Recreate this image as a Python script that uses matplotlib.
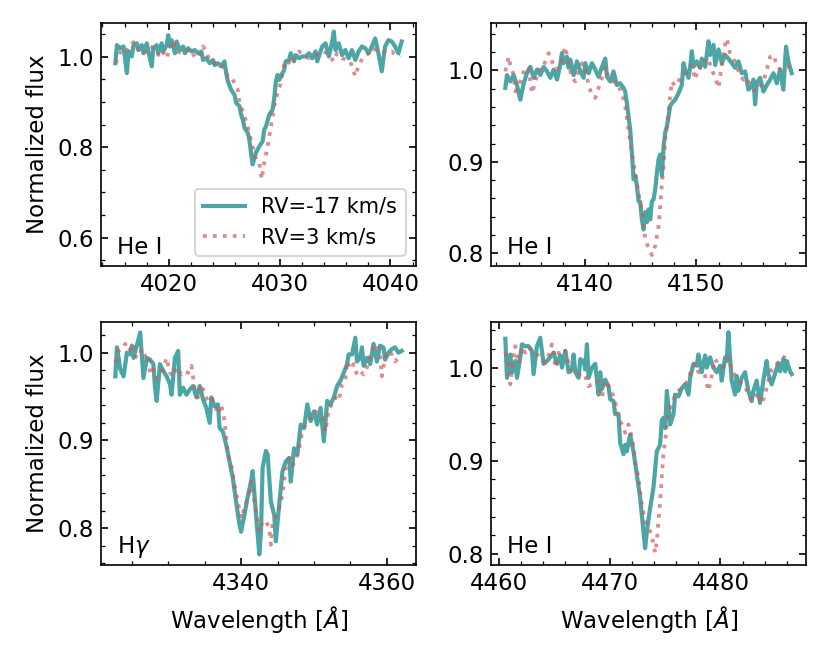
import matplotlib
matplotlib.use('Agg')
import matplotlib.pyplot as plt
from matplotlib.ticker import MultipleLocator, AutoMinorLocator

# Data (wavelength in A, normalized flux)

# He I 4026
wl_a1 = [4015.16, 4015.31, 4015.61, 4015.90, 4016.20, 4016.35, 4016.65, 4016.80, 4017.10, 4017.25,
         4017.55, 4017.70, 4018.00, 4018.15, 4018.45, 4018.59, 4018.89, 4019.04, 4019.34, 4019.49,
         4019.79, 4019.94, 4020.09, 4020.24, 4020.54, 4020.69, 4020.99, 4021.29, 4021.43, 4021.73,
         4022.03, 4022.33, 4022.63, 4022.93, 4023.08, 4023.38, 4023.68, 4023.98, 4024.13, 4024.42,
         4024.72, 4025.02, 4025.17, 4025.32, 4025.62, 4025.92, 4026.07, 4026.37, 4026.52, 4026.67,
         4026.82, 4027.12, 4027.26, 4027.41, 4027.56, 4027.86, 4028.16, 4028.46, 4028.61, 4028.76,
         4029.06, 4029.36, 4029.51, 4029.66, 4029.81, 4029.96, 4030.25, 4030.40, 4030.55, 4030.85,
         4031.00, 4031.30, 4031.45, 4031.75, 4032.05, 4032.35, 4032.65, 4032.94, 4033.24, 4033.39,
         4033.69, 4033.84, 4034.14, 4034.44, 4034.74, 4034.89, 4035.04, 4035.34, 4035.64, 4035.93,
         4036.23, 4036.53, 4036.83, 4037.13, 4037.43, 4037.73, 4038.03, 4038.33, 4038.62, 4038.92,
         4039.22, 4039.52, 4039.82, 4040.12, 4040.42, 4040.72, 4041.02]
fl_a1 = [0.986, 1.026, 1.019, 1.023, 0.964, 1.012, 1.001, 1.026, 1.030, 1.015,
         1.026, 1.008, 1.030, 1.012, 0.979, 1.019, 1.026, 1.008, 1.030, 1.012,
         1.026, 1.048, 1.023, 1.037, 1.008, 1.034, 1.015, 1.023, 1.008, 1.019,
         1.012, 1.015, 1.008, 1.012, 0.993, 0.997, 0.986, 0.993, 0.982, 0.986,
         0.979, 0.990, 0.964, 0.946, 0.927, 0.916, 0.898, 0.891, 0.872, 0.861,
         0.843, 0.832, 0.817, 0.788, 0.762, 0.788, 0.802, 0.813, 0.839, 0.846,
         0.872, 0.883, 0.909, 0.946, 0.960, 0.949, 0.964, 0.971, 0.990, 0.993,
         1.008, 0.990, 1.004, 0.997, 1.001, 1.001, 1.008, 0.997, 1.012, 0.990,
         1.012, 1.023, 1.030, 1.001, 1.034, 1.056, 1.015, 1.030, 1.004, 1.015,
         0.997, 1.015, 0.993, 1.012, 1.023, 1.019, 1.008, 1.023, 1.041, 1.008,
         0.968, 1.023, 1.037, 1.034, 1.023, 1.008, 1.034]
wl_b1 = [4015.16, 4015.46, 4015.75, 4016.20, 4016.65, 4016.95, 4017.25, 4017.55, 4018.00, 4018.30,
         4018.74, 4019.04, 4019.34, 4019.79, 4020.09, 4020.39, 4020.69, 4021.14, 4021.43, 4021.73,
         4022.03, 4022.48, 4022.78, 4023.08, 4023.38, 4023.68, 4024.13, 4024.57, 4025.02, 4025.32,
         4025.62, 4025.92, 4026.22, 4026.37, 4026.67, 4026.97, 4027.26, 4027.56, 4027.86, 4028.16,
         4028.37, 4028.61, 4028.91, 4029.21, 4029.51, 4029.81, 4030.10, 4030.40, 4030.70, 4031.00,
         4031.30, 4031.75, 4032.20, 4032.65, 4033.09, 4033.54, 4033.99, 4034.44, 4034.89, 4035.19,
         4035.64, 4036.08, 4036.38, 4036.83, 4037.13, 4037.58, 4038.03, 4038.33, 4038.77, 4039.22,
         4039.67, 4040.12, 4040.57, 4040.87]
fl_b1 = [0.986, 1.001, 1.019, 1.015, 1.030, 1.034, 1.012, 1.008, 1.012, 1.023,
         1.019, 1.004, 1.015, 0.997, 1.019, 1.037, 1.012, 1.008, 1.012, 1.015,
         1.001, 1.008, 1.001, 1.023, 1.012, 0.990, 0.986, 0.986, 0.975, 0.957,
         0.957, 0.942, 0.927, 0.902, 0.879, 0.857, 0.832, 0.802, 0.773, 0.766,
         0.729, 0.766, 0.802, 0.846, 0.891, 0.920, 0.942, 0.982, 0.993, 0.982,
         0.997, 1.012, 1.001, 0.997, 1.001, 1.008, 1.012, 1.004, 0.990, 1.008,
         0.997, 0.993, 0.990, 0.957, 0.982, 1.001, 1.008, 1.019, 1.015, 1.015,
         1.008, 1.012, 1.001, 1.004]

# He I 4144
wl_a2 = [4132.81, 4132.96, 4133.26, 4133.56, 4133.86, 4134.16, 4134.46, 4134.76, 4135.06, 4135.36,
         4135.66, 4135.96, 4136.26, 4136.56, 4136.86, 4137.16, 4137.46, 4137.75, 4137.90, 4138.05,
         4138.35, 4138.50, 4138.65, 4138.95, 4139.25, 4139.55, 4139.85, 4140.00, 4140.30, 4140.60,
         4140.90, 4141.20, 4141.50, 4141.80, 4141.95, 4142.25, 4142.54, 4142.84, 4143.14, 4143.44,
         4143.59, 4143.74, 4143.89, 4144.04, 4144.19, 4144.34, 4144.49, 4144.64, 4144.79, 4144.94,
         4145.09, 4145.24, 4145.39, 4145.54, 4145.69, 4145.84, 4145.99, 4146.14, 4146.29, 4146.44,
         4146.59, 4146.74, 4146.89, 4147.04, 4147.19, 4147.34, 4147.49, 4147.63, 4147.78, 4148.08,
         4148.38, 4148.68, 4148.83, 4148.98, 4149.28, 4149.43, 4149.58, 4149.73, 4150.03, 4150.33,
         4150.48, 4150.78, 4151.08, 4151.23, 4151.53, 4151.68, 4151.98, 4152.28, 4152.57, 4152.87,
         4153.17, 4153.47, 4153.77, 4154.07, 4154.37, 4154.67, 4154.97, 4155.12, 4155.27, 4155.42,
         4155.72, 4156.02, 4156.32, 4156.62, 4156.92, 4157.22, 4157.51, 4157.81, 4158.05, 4158.26,
         4158.56]
fl_a2 = [0.981, 0.995, 0.988, 0.995, 0.984, 0.968, 0.986, 0.997, 1.004, 0.992,
         1.001, 0.995, 1.004, 0.999, 0.992, 1.001, 0.990, 1.006, 1.019, 1.008,
         1.015, 1.003, 1.012, 0.995, 1.010, 0.999, 0.992, 1.008, 0.997, 1.008,
         1.001, 0.993, 1.004, 1.013, 0.993, 0.988, 0.999, 0.984, 0.986, 0.981,
         0.977, 0.964, 0.950, 0.935, 0.910, 0.881, 0.885, 0.874, 0.857, 0.856,
         0.837, 0.826, 0.845, 0.834, 0.848, 0.837, 0.857, 0.859, 0.870, 0.888,
         0.903, 0.908, 0.885, 0.917, 0.932, 0.939, 0.950, 0.961, 0.964, 0.968,
         0.975, 0.984, 1.008, 1.001, 0.992, 1.004, 1.021, 1.004, 1.010, 1.003,
         1.013, 1.004, 1.032, 1.017, 1.028, 1.006, 1.023, 1.008, 1.017, 1.013,
         1.008, 1.003, 1.010, 0.997, 0.999, 0.979, 0.983, 0.990, 0.963, 0.986,
         0.992, 0.977, 0.984, 0.990, 0.997, 0.986, 1.001, 0.979, 1.026, 1.010,
         0.997]
wl_b2 = [4132.81, 4133.11, 4133.26, 4133.56, 4133.71, 4134.01, 4134.31, 4134.61, 4134.91, 4135.21,
         4135.51, 4135.81, 4136.11, 4136.41, 4136.71, 4137.01, 4137.31, 4137.60, 4137.90, 4138.20,
         4138.50, 4138.80, 4139.10, 4139.40, 4139.70, 4140.00, 4140.30, 4140.60, 4140.90, 4141.20,
         4141.50, 4141.80, 4142.10, 4142.40, 4142.69, 4142.99, 4143.29, 4143.59, 4143.89, 4144.04,
         4144.19, 4144.34, 4144.49, 4144.79, 4145.09, 4145.39, 4145.69, 4145.99, 4146.29, 4146.59,
         4146.74, 4146.89, 4147.04, 4147.19, 4147.34, 4147.49, 4147.63, 4147.78, 4148.08, 4148.38,
         4148.68, 4148.98, 4149.28, 4149.58, 4149.88, 4150.18, 4150.48, 4150.78, 4151.08, 4151.38,
         4151.68, 4151.98, 4152.28, 4152.57, 4152.72, 4153.02, 4153.32, 4153.62, 4153.92, 4154.22,
         4154.52, 4154.82, 4155.12, 4155.42, 4155.72, 4156.02, 4156.32, 4156.62, 4156.92, 4157.22,
         4157.51, 4157.81, 4158.11, 4158.41]
fl_b2 = [0.999, 1.015, 1.006, 0.995, 0.977, 0.983, 0.993, 1.004, 1.001, 0.975,
         0.988, 1.001, 1.001, 1.010, 1.019, 1.010, 1.001, 1.003, 1.013, 1.026,
         1.008, 0.992, 0.988, 1.001, 1.008, 1.004, 0.983, 0.974, 0.970, 0.981,
         0.992, 1.004, 0.992, 0.990, 0.986, 0.983, 0.975, 0.961, 0.935, 0.921,
         0.910, 0.899, 0.888, 0.866, 0.845, 0.816, 0.805, 0.798, 0.808, 0.830,
         0.852, 0.877, 0.895, 0.925, 0.939, 0.957, 0.972, 0.988, 0.983, 0.988,
         0.995, 0.997, 1.003, 1.006, 0.990, 1.004, 1.003, 1.013, 1.012, 1.001,
         0.992, 0.981, 1.006, 1.028, 1.035, 1.019, 1.013, 1.004, 0.995, 0.990,
         0.992, 0.984, 0.979, 0.977, 0.983, 0.988, 1.001, 1.015, 1.017, 1.006,
         1.001, 1.003, 1.004, 1.004]

# H gamma
wl_a3 = [4322.73, 4322.95, 4323.41, 4323.86, 4324.32, 4324.77, 4325.00, 4325.23, 4325.68, 4326.14,
         4326.59, 4327.05, 4327.50, 4327.95, 4328.18, 4328.41, 4328.86, 4329.32, 4329.77, 4330.23,
         4330.45, 4330.91, 4331.36, 4331.59, 4332.05, 4332.50, 4332.95, 4333.41, 4333.86, 4334.32,
         4334.77, 4335.23, 4335.68, 4335.91, 4336.36, 4336.82, 4337.05, 4337.50, 4337.95, 4338.41,
         4338.86, 4339.32, 4339.77, 4340.00, 4340.45, 4340.91, 4341.36, 4341.59, 4342.05, 4342.50,
         4342.73, 4342.95, 4343.41, 4343.64, 4344.09, 4344.55, 4344.77, 4345.23, 4345.68, 4346.14,
         4346.59, 4346.82, 4347.27, 4347.73, 4348.18, 4348.64, 4349.09, 4349.55, 4350.00, 4350.45,
         4350.91, 4351.36, 4351.82, 4352.27, 4352.73, 4353.18, 4353.64, 4354.09, 4354.55, 4354.77,
         4355.23, 4355.68, 4355.91, 4356.36, 4356.59, 4356.82, 4357.27, 4357.73, 4358.18, 4358.64,
         4359.09, 4359.55, 4359.77, 4360.23, 4360.68, 4361.14, 4361.59, 4362.05]
fl_a3 = [0.973, 1.006, 0.981, 0.973, 1.000, 0.998, 1.008, 0.994, 1.008, 1.023,
         0.971, 0.994, 0.992, 0.987, 0.960, 0.945, 0.987, 0.979, 0.973, 0.964,
         0.952, 0.994, 1.002, 0.952, 0.960, 0.952, 0.958, 0.962, 0.949, 0.962,
         0.947, 0.937, 0.920, 0.949, 0.939, 0.941, 0.914, 0.910, 0.895, 0.876,
         0.857, 0.830, 0.804, 0.796, 0.815, 0.836, 0.853, 0.865, 0.815, 0.770,
         0.796, 0.869, 0.888, 0.884, 0.830, 0.815, 0.785, 0.827, 0.865, 0.876,
         0.880, 0.853, 0.891, 0.884, 0.918, 0.914, 0.941, 0.922, 0.933, 0.918,
         0.937, 0.899, 0.945, 0.941, 0.949, 0.962, 0.968, 0.977, 0.987, 0.998,
         0.998, 1.017, 0.990, 0.994, 1.006, 0.985, 0.994, 0.987, 1.010, 0.990,
         1.008, 1.006, 0.992, 1.000, 1.004, 1.006, 1.000, 1.002]
wl_b3 = [4322.73, 4323.18, 4323.64, 4324.09, 4324.55, 4325.00, 4325.23, 4325.45, 4325.91, 4326.36,
         4326.82, 4327.27, 4327.50, 4327.95, 4328.41, 4328.86, 4329.32, 4329.77, 4330.23, 4330.68,
         4331.14, 4331.82, 4332.27, 4332.73, 4333.18, 4333.64, 4334.09, 4334.55, 4335.00, 4335.45,
         4335.91, 4336.36, 4336.82, 4337.27, 4337.73, 4338.18, 4338.64, 4339.09, 4339.55, 4340.00,
         4340.45, 4340.91, 4341.36, 4341.59, 4342.05, 4342.50, 4342.95, 4343.41, 4343.86, 4344.09,
         4344.32, 4344.77, 4345.23, 4345.45, 4345.68, 4346.14, 4346.59, 4347.05, 4347.50, 4347.95,
         4348.41, 4348.86, 4349.32, 4349.77, 4350.23, 4350.68, 4351.14, 4351.59, 4352.05, 4352.50,
         4352.95, 4353.41, 4353.86, 4354.32, 4354.55, 4355.00, 4355.45, 4355.91, 4356.36, 4356.82,
         4357.27, 4357.73, 4358.18, 4358.64, 4359.09, 4359.32, 4359.77, 4360.23, 4360.68, 4361.14,
         4361.59]
fl_b3 = [0.989, 1.002, 1.004, 1.010, 1.002, 1.006, 1.010, 0.996, 0.994, 1.004,
         0.996, 0.998, 0.975, 0.981, 0.971, 0.973, 0.983, 0.994, 0.977, 0.973,
         0.983, 0.975, 0.979, 0.977, 0.985, 0.958, 0.949, 0.964, 0.952, 0.945,
         0.949, 0.941, 0.930, 0.941, 0.922, 0.884, 0.872, 0.850, 0.830, 0.811,
         0.823, 0.834, 0.853, 0.842, 0.819, 0.796, 0.808, 0.808, 0.800, 0.781,
         0.804, 0.815, 0.823, 0.830, 0.838, 0.869, 0.880, 0.872, 0.876, 0.891,
         0.910, 0.918, 0.922, 0.930, 0.933, 0.930, 0.926, 0.910, 0.937, 0.941,
         0.949, 0.945, 0.964, 0.968, 0.990, 0.981, 0.987, 0.975, 0.979, 0.975,
         0.983, 0.998, 1.006, 1.010, 0.998, 0.973, 0.994, 1.002, 0.998, 0.990,
         0.994]

# He I 4471
wl_a4 = [4460.60, 4460.75, 4461.05, 4461.20, 4461.50, 4461.65, 4461.95, 4462.10, 4462.40, 4462.70,
         4463.00, 4463.15, 4463.45, 4463.75, 4464.05, 4464.35, 4464.65, 4464.95, 4465.26, 4465.56,
         4465.71, 4466.01, 4466.31, 4466.61, 4466.76, 4466.91, 4467.21, 4467.36, 4467.66, 4467.81,
         4467.96, 4468.11, 4468.41, 4468.71, 4468.86, 4469.01, 4469.16, 4469.31, 4469.61, 4469.91,
         4470.06, 4470.36, 4470.51, 4470.81, 4470.96, 4471.26, 4471.41, 4471.56, 4471.86, 4472.16,
         4472.46, 4472.76, 4473.06, 4473.21, 4473.36, 4473.66, 4473.96, 4474.26, 4474.56, 4474.71,
         4474.86, 4475.02, 4475.17, 4475.32, 4475.47, 4475.77, 4475.92, 4476.22, 4476.52, 4476.82,
         4477.12, 4477.27, 4477.57, 4477.87, 4478.02, 4478.32, 4478.62, 4478.77, 4479.07, 4479.37,
         4479.67, 4479.97, 4480.12, 4480.42, 4480.57, 4480.72, 4480.87, 4481.02, 4481.32, 4481.47,
         4481.62, 4481.92, 4482.22, 4482.52, 4482.82, 4482.97, 4483.27, 4483.57, 4483.87, 4484.17,
         4484.32, 4484.62, 4484.92, 4485.23, 4485.38, 4485.68, 4485.83, 4485.98, 4486.28, 4486.43]
fl_a4 = [1.031, 0.989, 1.014, 0.995, 1.007, 0.989, 1.011, 1.025, 1.023, 1.023,
         1.018, 0.993, 1.023, 1.032, 1.004, 1.007, 1.011, 1.016, 1.004, 1.013,
         1.000, 1.018, 0.995, 0.998, 1.014, 0.995, 0.989, 1.009, 1.007, 0.998,
         1.025, 0.989, 1.000, 1.004, 0.987, 0.971, 0.995, 0.977, 0.987, 0.980,
         0.966, 0.964, 0.950, 0.950, 0.919, 0.907, 0.917, 0.910, 0.928, 0.910,
         0.885, 0.860, 0.824, 0.806, 0.824, 0.849, 0.871, 0.910, 0.917, 0.943,
         0.946, 0.935, 0.975, 0.957, 0.939, 0.950, 0.971, 0.969, 0.978, 0.982,
         0.971, 0.989, 1.004, 1.002, 1.014, 0.995, 1.013, 1.000, 1.011, 1.000,
         0.995, 1.002, 0.986, 1.011, 1.007, 1.038, 1.011, 0.986, 0.971, 0.991,
         0.975, 0.989, 0.995, 0.975, 0.964, 0.975, 0.986, 0.962, 0.986, 1.007,
         0.993, 0.982, 0.993, 1.005, 0.996, 1.009, 0.996, 1.007, 0.996, 0.993]
wl_b4 = [4460.60, 4460.90, 4461.05, 4461.20, 4461.35, 4461.50, 4461.80, 4462.10, 4462.40, 4462.70,
         4463.00, 4463.30, 4463.60, 4463.90, 4464.20, 4464.50, 4464.80, 4464.95, 4465.11, 4465.41,
         4465.71, 4466.01, 4466.31, 4466.61, 4466.91, 4467.21, 4467.51, 4467.81, 4468.11, 4468.41,
         4468.71, 4469.01, 4469.31, 4469.61, 4469.76, 4470.06, 4470.36, 4470.51, 4470.66, 4470.81,
         4471.11, 4471.41, 4471.71, 4472.01, 4472.16, 4472.31, 4472.61, 4472.76, 4472.91, 4473.21,
         4473.51, 4473.81, 4473.96, 4474.11, 4474.26, 4474.41, 4474.56, 4474.71, 4474.86, 4475.02,
         4475.17, 4475.32, 4475.47, 4475.62, 4475.92, 4476.22, 4476.52, 4476.82, 4477.12, 4477.42,
         4477.72, 4478.02, 4478.32, 4478.62, 4478.92, 4479.22, 4479.52, 4479.82, 4480.12, 4480.42,
         4480.72, 4481.02, 4481.32, 4481.62, 4481.92, 4482.22, 4482.52, 4482.82, 4483.12, 4483.42,
         4483.72, 4484.02, 4484.32, 4484.62, 4484.92, 4485.23, 4485.53, 4485.83, 4486.13]
fl_b4 = [1.016, 1.004, 0.982, 0.998, 1.013, 1.023, 1.004, 1.022, 1.016, 1.022,
         1.018, 1.014, 1.013, 1.009, 1.005, 1.013, 1.025, 1.018, 1.000, 1.016,
         1.014, 1.018, 1.005, 0.995, 0.993, 0.993, 0.989, 0.991, 0.980, 0.982,
         0.986, 0.984, 0.968, 0.986, 0.982, 0.978, 0.969, 0.964, 0.953, 0.946,
         0.939, 0.930, 0.939, 0.925, 0.914, 0.899, 0.882, 0.867, 0.853, 0.835,
         0.828, 0.820, 0.810, 0.801, 0.813, 0.835, 0.856, 0.882, 0.907, 0.921,
         0.939, 0.950, 0.957, 0.964, 0.969, 0.975, 0.978, 0.982, 0.987, 1.000,
         1.004, 0.995, 0.996, 0.991, 0.975, 0.991, 1.009, 1.004, 1.000, 1.002,
         1.011, 0.998, 0.991, 0.987, 0.982, 0.980, 0.971, 0.964, 0.968, 0.973,
         0.961, 0.971, 0.986, 0.998, 1.004, 1.004, 1.007, 1.013, 1.007]

labels = ['RV=-17 km/s', 'RV=3 km/s']
line_names = ['He I', 'He I', r'H$\gamma$', 'He I']
ylims = [(0.537, 1.075), (0.786, 1.052), (0.758, 1.035), (0.788, 1.049)]
ymajor = [0.2, 0.1, 0.1, 0.1]
xmajor = [10, 10, 20, 10]

plt.rcParams['font.size'] = 11

fig, axes = plt.subplots(2, 2, figsize=(830 / 150, 664 / 150), dpi=150)
fig.subplots_adjust(left=0.1217, right=0.9711, top=0.9654, bottom=0.1491,
                    wspace=0.238, hspace=0.23)

series = [(wl_a1, fl_a1, wl_b1, fl_b1), (wl_a2, fl_a2, wl_b2, fl_b2),
          (wl_a3, fl_a3, wl_b3, fl_b3), (wl_a4, fl_a4, wl_b4, fl_b4)]

for i, ax in enumerate(axes.flat):
    wa, fa, wb, fb = series[i]
    ax.plot(wa, fa, color='teal', alpha=0.7, lw=2, label=labels[0])
    ax.plot(wb, fb, color='indianred', alpha=0.7, lw=1.8, ls=':', label=labels[1])
    ax.set_ylim(*ylims[i])
    ax.xaxis.set_major_locator(MultipleLocator(xmajor[i]))
    ax.yaxis.set_major_locator(MultipleLocator(ymajor[i]))
    ax.xaxis.set_minor_locator(AutoMinorLocator())
    ax.yaxis.set_minor_locator(AutoMinorLocator())
    ax.tick_params(which='both', direction='in', top=True, right=True)
    ax.text(0.05, 0.05, line_names[i], transform=ax.transAxes, fontsize=11)

axes[0, 0].set_ylabel('Normalized flux')
axes[1, 0].set_ylabel('Normalized flux')
axes[1, 0].set_xlabel(r'Wavelength [$\AA$]')
axes[1, 1].set_xlabel(r'Wavelength [$\AA$]')
axes[0, 0].legend(loc='lower right', fontsize=10)

plt.savefig('out.png', dpi=150)
